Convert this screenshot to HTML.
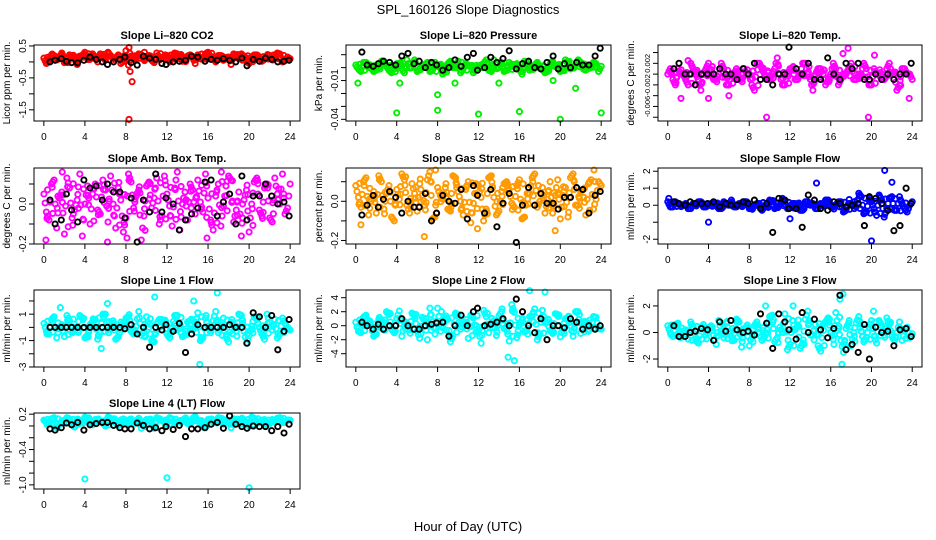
<!DOCTYPE html>
<html><head><meta charset="utf-8"><style>
html,body{margin:0;padding:0;background:#fff;}
svg{display:block;font-family:"Liberation Sans",sans-serif;}
</style></head><body>
<svg id="chart" width="936" height="540" viewBox="0 0 936 540" xmlns="http://www.w3.org/2000/svg">
<text x="468" y="14" text-anchor="middle" font-size="13">SPL_160126  Slope Diagnostics</text>
<text x="468" y="531" text-anchor="middle" font-size="13">Hour of Day (UTC)</text>
</svg>
<script>
// shared categories
const hoursA = Array.from({length:49},(_, i)=>i*0.5);
const hoursB = Array.from({length:48},(_, i)=>i*0.5+0.25);
const blackHours = [0.6,1.1,1.7,2.2,2.7,3.3,3.9,4.5,5.1,5.7,6.2,6.8,7.4,7.9,8.5,9.1,9.7,10.3,10.9,11.5,11.9,12.6,13.2,13.8,14.4,15.0,15.7,16.3,16.9,17.5,18.1,18.7,19.3,19.8,20.4,21.0,21.6,22.2,22.8,23.4,23.9];
const xTicks = [0,4,8,12,16,20,24];

// CO2
const co2A = [0.12,0.05,0.2,0.15,-0.02,0.22,0.1,0.18,0.3,0.08,0.15,0.25,0.05,0.2,0.12,-0.05,0.35,0.18,0.1,0.22,0.15,0.05,0.28,0.12,0.2,0.1,0.25,0.02,0.18,0.15,0.22,0.08,0.3,0.12,0.2,0.05,0.15,0.25,0.1,0.18,-0.05,0.22,0.15,0.08,0.2,0.12,0.25,0.05,0.1];
const co2B = [-0.05,0.22,0.1,0.28,0.02,0.15,-0.08,0.2,0.12,0.25,0.0,0.18,0.3,0.1,0.22,0.05,-0.1,0.15,0.25,0.08,0.2,-0.02,0.12,0.18,0.0,0.28,0.15,0.05,0.22,-0.05,0.1,0.25,0.15,0.0,0.2,0.12,-0.08,0.18,0.25,0.05,0.15,0.22,0.02,0.2,0.1,0.28,0.0,0.15];
const co2Black = [0.0,0.05,0.1,0.02,-0.02,-0.03,0.05,0.15,0.08,0.0,-0.08,0.0,0.08,0.15,-0.02,-0.1,0.18,0.12,0.08,-0.05,-0.08,0.0,0.02,0.05,0.18,0.15,0.02,0.08,0.05,0.1,0.05,0.0,0.12,-0.12,0.08,0.02,0.12,0.08,0.0,0.02,0.05];
const co2OutX = [8.3,8.4,8.6,8.3,9.8];
const co2OutY = [0.45,-0.3,-0.62,-1.8,0.3];
const co2Ticks = [0.5,0,-0.5,-1,-1.5];
const co2Labels = ["0.5","","-0.5","","-1.5"];

// Pressure
const presA = [0.002,-0.003,0.004,0,-0.002,0.005,0.001,-0.004,0.003,-0.001,0.006,0,-0.003,0.002,0.004,-0.002,0.001,-0.005,0.003,0,0.005,-0.001,0.002,-0.004,0.001,0.003,-0.002,0.006,0,-0.003,0.004,0.001,-0.001,0.005,-0.002,0.002,0,-0.004,0.003,0.001,-0.003,0.006,-0.001,0.002,0.004,-0.002,0,0.003,0.001];
const presB = [-0.001,0.004,0,-0.003,0.002,0.005,-0.002,0.001,0.003,-0.004,0,0.006,-0.001,0.002,-0.003,0.004,0.001,-0.002,0.005,0,-0.004,0.003,0.001,-0.001,0.002,0.006,-0.003,0,0.004,-0.002,0.001,0.003,-0.005,0.002,0,0.004,-0.001,-0.003,0.005,0.001,-0.002,0.003,0,0.006,-0.001,0.002,0.004,-0.003];
const presBlack = [0.012,0.002,0.001,0.003,0.005,0.004,0.002,0.009,0.011,0.003,0.005,0,0.004,0.002,-0.002,0,0.006,0.001,0.008,0.011,-0.002,0,0.008,0.004,0.007,0.013,-0.001,0.003,0.005,0,-0.001,0.004,0.009,-0.001,0.003,0,0.004,0.002,0.002,0.009,0.015];
const presOutX = [4,8,12,16,20,24,8,21.5,0.2,4.3,9.7,14,19.3];
const presOutY = [-0.035,-0.033,-0.036,-0.034,-0.04,-0.035,-0.021,-0.016,-0.012,-0.012,-0.012,-0.012,-0.01];
const presTicks = [0.01,0,-0.01,-0.02,-0.03,-0.04];
const presLabels = ["","","-0.01","","","-0.04"];

// Li-820 Temp
const tempA = [0,-0.001,0.001,0,-0.002,0.001,-0.001,0,0.002,-0.001,0,0.001,-0.002,0,-0.001,0.001,0,-0.003,0.002,0,-0.001,0.001,0,-0.002,0.001,-0.001,0,0.002,-0.001,0,0.001,-0.002,0,0.001,-0.001,0,0.002,-0.001,0,0.001,-0.002,0,-0.001,0.001,0,-0.003,0.001,0,-0.001];
const tempB = [0.001,-0.002,0,-0.001,0.002,0,-0.003,0.001,0,-0.001,0.002,-0.002,0,0.001,-0.001,0,-0.002,0.002,0.001,-0.001,0,0.003,-0.002,0,0.001,-0.001,0.002,0,-0.003,0.001,0,-0.001,0.002,-0.002,0,0.001,-0.001,0,0.002,-0.002,0.001,0,-0.001,0.002,0,-0.002,0.001,0];
const tempBlack = [0.001,0.002,0,0,-0.002,0,0,0,0.001,0,0,-0.001,0.001,0,0.002,-0.001,-0.001,-0.002,0,0,0.005,0.001,0,0.002,-0.001,-0.001,0.003,0,-0.001,0.002,0.001,0.002,-0.001,-0.001,0,-0.001,0,-0.001,0,0,0.002];
const tempOutX = [1.3,4.0,9.7,19.7,23.7,17.7,2.0,20.3,6.0,17.2];
const tempOutY = [-0.0045,-0.0045,-0.008,-0.008,-0.0045,0.0048,0.0025,0.0035,-0.004,0.0038];
const tempTicks = [0.004,0.002,0,-0.002,-0.004,-0.006,-0.008];
const tempLabels = ["","0.002","","-0.002","","-0.006",""];

// Amb box temp
const ambA = [0.05,-0.08,0.12,0.03,-0.15,0.08,-0.03,0.15,0,-0.1,0.1,-0.05,0.07,0.14,-0.12,0.02,-0.07,0.11,0.04,-0.18,0.09,-0.02,0.13,-0.06,0.05,-0.11,0.16,0,-0.08,0.07,0.12,-0.04,0.03,-0.13,0.1,-0.01,0.14,-0.09,0.06,0.02,-0.14,0.11,-0.03,0.08,-0.07,0.13,0,-0.05,0.1];
const ambB = [-0.04,0.1,-0.12,0.06,0.13,-0.07,0.02,-0.16,0.09,0.05,-0.03,0.12,-0.09,0,0.08,-0.14,0.15,-0.02,0.07,-0.06,0.11,0.03,-0.1,0.14,-0.01,0.08,-0.13,0.06,0.1,-0.05,0.01,0.15,-0.08,0.04,-0.11,0.09,0.12,-0.03,-0.16,0.07,0,0.13,-0.06,0.1,-0.09,0.05,0.15,-0.02];
const ambBlack = [0.02,-0.1,-0.08,0.05,-0.03,-0.09,0.12,0.08,0.09,0.02,0.1,0.06,0.06,-0.07,0.03,-0.19,0.02,-0.04,0.15,-0.04,0.03,0,-0.13,-0.08,-0.05,-0.02,0.11,0.12,-0.06,0.01,0.05,-0.1,0.14,-0.08,0.04,0.04,0.1,0.04,0,0.01,-0.06];
const ambOutX = [6.2,8.1,15.9,0.2,1.8,17.3];
const ambOutY = [-0.19,-0.17,-0.17,-0.18,0.16,0.16];
const ambTicks = [0.1,0,-0.1,-0.2];
const ambLabels = ["","0.0","","-0.2"];

// Gas stream RH
const rhA = [0.08,-0.03,0.12,0,-0.06,0.1,0.04,-0.08,0.06,0.14,-0.02,0.09,-0.05,0.03,0.11,-0.09,0.07,0.01,-0.04,0.13,0.05,-0.07,0.1,-0.01,0.08,-0.1,0.12,0.02,-0.05,0.09,0.06,-0.03,0.11,-0.08,0.04,0.14,0,-0.06,0.1,0.03,-0.09,0.07,0.12,-0.02,0.05,-0.07,0.11,0.01,0.08];
const rhB = [0.02,0.1,-0.07,0.05,0.13,-0.04,0.08,-0.1,0.01,0.11,-0.06,0.04,0.09,-0.02,0.15,-0.08,0.03,0.07,-0.05,0.12,0,0.06,-0.11,0.09,0.02,-0.04,0.13,-0.07,0.05,0.1,-0.01,0.08,-0.09,0.04,0.12,-0.03,0.07,0.01,-0.06,0.11,0.03,-0.08,0.14,-0.02,0.06,0.09,-0.04,0.1];
const rhBlack = [-0.07,-0.02,0.03,-0.03,0.01,0.05,0.02,-0.06,0,-0.03,-0.03,0.04,-0.1,-0.06,0.03,0,-0.01,0.06,-0.09,0.08,0.03,-0.06,0.06,-0.13,-0.01,0.04,-0.21,-0.02,0.07,-0.02,0.04,-0.01,-0.01,-0.04,0.02,0.02,0.07,0.06,-0.06,0.03,0.05];
const rhOutX = [0.5,6.7,11.9,19.5,7.8,23.3];
const rhOutY = [-0.12,-0.18,-0.14,-0.15,0.16,0.16];
const rhTicks = [0.1,0,-0.1,-0.2];
const rhLabels = ["","0.0","","-0.2"];

// Sample flow
const sfA = [0.2,-0.1,0.1,0,-0.2,0.1,0.2,-0.1,0,0.1,-0.2,0.2,0,-0.1,0.1,0.2,-0.2,0,0.1,-0.1,0.3,-0.2,0,0.2,-0.1,0.1,-0.3,0.2,0,-0.2,0.1,0.3,-0.1,0,0.2,-0.3,0.1,-0.1,0.5,-0.4,0.2,-0.6,0.3,-0.2,0.5,-0.3,0.1,-0.4,0.2];
const sfB = [-0.1,0.2,0,0.1,-0.2,0,0.2,-0.1,0.1,0,-0.2,0.1,0.3,-0.1,0,0.2,-0.2,0.1,-0.3,0,0.2,-0.1,0.4,-0.2,0.1,0,-0.3,0.2,0.1,-0.2,0,0.3,-0.1,0.2,-0.4,0.1,0,0.7,-0.5,0.3,-0.2,0.6,-0.7,0.4,-0.3,0.5,-0.2,0];
const sfBlack = [0.2,0.1,0,0.2,0.1,0.1,0.1,0.2,-0.1,0.1,0,0,0.2,0.1,0.3,-0.2,0.1,-1.6,0.4,0.3,-0.2,-0.2,-1.3,0.6,0.3,-0.2,-0.3,0.2,0.1,-0.1,0,0.1,-1.2,0.5,0.4,0.1,-0.3,-1.5,-1.2,1.0,0.1];
const sfOutX = [4,14.6,21.3,20,22,12,0.1];
const sfOutY = [-1.0,1.3,2.05,-2.1,1.35,-0.8,0.4];
const sfTicks = [2,1,0,-1,-2];
const sfLabels = ["2","1","0","","-2"];

// Line 1 flow
const l1A = [0.3,-0.5,0.8,0,-0.7,0.5,-0.2,0.9,-0.8,0.2,0.6,-0.4,1.0,-0.1,-0.9,0.4,0.7,-0.3,0.1,-0.6,0.8,-1.0,0.3,0.6,-0.5,0,0.9,-0.7,0.4,-0.2,1.1,-0.8,0.1,0.5,-0.4,0.7,-1.1,0.2,1.0,-0.3,-0.6,0.8,0,-0.9,0.4,0.6,-0.5,0.3,-0.2];
const l1B = [-0.3,0.6,-0.8,0.2,0.9,-0.4,0,0.7,-0.6,0.4,-0.9,1.0,-0.2,0.5,-0.7,0.1,0.8,-0.5,1.2,-0.3,0,-1.1,0.6,0.3,-0.8,0.9,-0.1,-0.6,0.5,0.2,-1.0,0.7,-0.4,1.2,0,-0.7,0.4,-0.3,0.9,-1.2,0.1,0.6,-0.5,1.0,-0.2,-0.8,0.7,0];
const l1Black = [0,0,0,0,0,0,0,0,0,0,0,0,0,-0.1,0.2,-0.5,0,-1.5,0,-0.2,0.2,-0.3,0.3,-1.9,-0.5,0.2,0,0,0,0,0.2,0,0,-1.2,1.1,0.8,0,0.9,-1.7,-0.3,0.6];
const l1OutX = [10.8,14.6,16.9,15.2,5.6,6.2,1.6];
const l1OutY = [2.3,2.0,2.6,-2.8,-1.6,1.8,1.5];
const l1Ticks = [2,1,0,-1,-2,-3];
const l1Labels = ["","1","","-1","","-3"];

// Line 2 flow
const l2A = [0.5,-1.0,1.5,0,-1.2,0.8,2.0,-0.5,1.0,-1.5,0.3,1.8,-0.8,1.2,-2.0,0.6,2.5,-0.3,0.9,-1.4,1.6,0.2,-1.8,1.1,-0.6,2.2,-1.0,0.7,1.4,-0.4,-2.2,1.9,0.1,-0.9,1.3,2.4,-1.2,0.4,-0.7,1.7,-1.6,1.0,0,2.0,-1.1,0.6,-0.3,1.2,-0.5];
const l2B = [-0.8,1.2,0.3,-1.5,0.9,-0.4,1.6,-1.0,2.1,0,-0.6,1.4,-1.8,0.7,2.5,-1.2,0.2,1.1,-2.3,1.8,-0.5,0.9,1.5,-0.9,-2.5,1.3,0.4,-1.4,2.0,-0.2,3.0,-1.7,0.8,-0.7,1.4,-2.0,2.2,0.5,-1.1,1.6,-0.3,0.9,-1.5,2.0,0.1,-0.8,1.3,-0.4];
const l2Black = [0.5,0,-0.5,0.2,-0.5,0,0,1.0,0,-0.5,-0.5,0,0.2,0.4,0.5,-1.5,0,1.5,0,2.0,2.5,0,0.2,0.5,1.0,0,3.8,2.0,0,-1.0,1.0,-2.0,0,0,-0.3,1.0,0.5,-0.5,0,-0.5,0];
const l2OutX = [14.9,15.5,18.5,17.0];
const l2OutY = [-4.5,-5.0,4.8,5.0];
const l2Ticks = [4,2,0,-2,-4];
const l2Labels = ["4","2","0","-2","-4"];

// Line 3 flow
const l3A = [0.5,-0.3,0.7,0,-0.5,0.4,-0.8,0.6,0.2,-0.2,0.9,-0.4,0.1,-0.6,0.8,0.3,-1.0,0.5,0,-0.3,1.2,-0.7,0.4,1.4,-0.9,0.2,-1.2,1.0,-0.2,0.6,-1.4,0.8,0,1.5,-0.6,0.3,-1.0,0.7,0.1,-0.4,0.9,-0.8,0.5,1.1,-0.3,0,-0.6,0.4,-0.1];
const l3B = [0,0.6,-0.4,0.2,0.8,-0.6,0.3,-0.2,0.5,-0.9,0.1,0.7,-0.3,1.0,-1.1,0.4,-0.1,0.8,-0.6,0.2,1.3,-0.4,0,-1.3,0.9,0.5,-0.8,1.6,-0.2,-1.0,0.6,1.1,-0.5,0.3,-1.5,0.7,0,1.2,-0.7,0.4,-0.3,0.9,-0.2,0.6,-0.6,0.8,0.1,-0.4];
const l3Black = [0.5,-0.3,-0.3,0,0.1,0.3,0.2,-0.6,0.8,0.1,0.9,0.2,0,0.1,-0.2,1.4,0.7,-1.2,1.4,0.8,0.2,-0.5,1.5,0,1.0,0.2,-0.4,0.3,2.8,-1.3,-0.9,-1.5,0.6,-2.0,0.4,0,0.1,-1.0,0.2,0.3,-0.3];
const l3OutX = [16.9,17.2,17.1,9.6,12.3,20.2];
const l3OutY = [2.5,2.9,-2.4,2.0,2.0,1.6];
const l3Ticks = [2,0,-2];
const l3Labels = ["2","0","-2"];

// Line 4 (LT) flow
const l4A = [0.10,0.05,0.14,0.02,0.08,0.12,-0.02,0.09,0.15,0.04,0.11,0.07,0,0.13,0.06,0.10,0.03,0.12,0.08,-0.04,0.11,0.05,0.14,0.09,0.02,0.12,0.07,0.10,0.04,0.13,0.08,-0.02,0.11,0.06,0.14,0.03,0.09,0.12,0.05,0.10,0,0.13,0.07,0.11,0.04,0.08,0.14,0.06,0.10];
const l4B = [0.06,0.12,-0.03,0.09,0.14,0.04,0.11,0.07,0.13,0.02,0.10,0.05,0.15,0.08,0.01,0.12,0.09,0.04,0.13,0.06,0.10,-0.04,0.11,0.07,0.14,0.03,0.09,0.12,0.05,0.16,0.08,0.02,0.11,0.06,0.13,0.10,-0.03,0.08,0.12,0.04,0.15,0.07,0.09,0.01,0.11,0.13,0.06,0.10];
const l4Black = [-0.05,-0.07,-0.03,0.05,0.02,0.06,-0.07,0.02,0.04,0.06,0.06,0.01,-0.03,-0.05,-0.05,0.05,0.01,-0.05,-0.03,-0.08,-0.01,-0.06,0.01,-0.18,-0.05,-0.05,-0.03,0.03,0.06,-0.04,0.17,0.03,-0.01,-0.04,0,-0.01,-0.01,-0.08,-0.01,-0.12,0.03];
const l4OutX = [4,12,20];
const l4OutY = [-0.9,-0.88,-1.05];
const l4Ticks = [0.2,0,-0.2,-0.4,-0.6,-0.8,-1.0];
const l4Labels = ["0.2","","","-0.4","","","-1.0"];

const NS = "http://www.w3.org/2000/svg";
const svg = document.getElementById('chart');
const cols = [[34,300],[346,611],[658,922]];
const rows = [[45,121],[168,244],[290,367],[413,489]];

function mk(tag, attrs, parent){
  const e = document.createElementNS(NS, tag);
  for (const k in attrs) e.setAttribute(k, attrs[k]);
  (parent||svg).appendChild(e);
  return e;
}

function panel(name, title, ylab, r, c, ymin, ymax, color, A, B, blk, ox, oy, ticks, labels, tickFont){
  const [L,R] = cols[c], [T,Bt] = rows[r];
  const g = mk('g', {});
  
  
  const xs = h => L + (h + 0.96) / 25.92 * (R - L);
  const ys = v => Bt - (v - ymin) / (ymax - ymin) * (Bt - T);
  const t = mk('text', {x:(L+R)/2, y:T-6, 'text-anchor':'middle', 'font-size':11, 'font-weight':'bold'}, g);
  t.textContent = title;
  
  
  const yl = mk('text', {x:0, y:0, 'text-anchor':'middle', 'font-size':10, transform:`translate(${L-24},${(T+Bt)/2}) rotate(-90)`}, g);
  yl.textContent = ylab;
  
  
  const pts = mk('g', {fill:'none', 'stroke-width':1.9}, g);
  
  
  function dot(h, v, col){
    const p = mk('circle', {cx:xs(h).toFixed(1), cy:ys(v).toFixed(1), r:2.6, stroke:col}, pts);
    
    
  }
  A.forEach((v,i)=>dot(hoursA[i], v, color));
  B.forEach((v,i)=>dot(hoursB[i], v, color));
  A.forEach((v,i)=>{ if (i < B.length) dot(hoursA[i]+0.12, (v + B[i]) / 2, color); });
  B.forEach((v,i)=>{ if (i+1 < A.length) dot(hoursB[i]+0.12, (v + A[i+1]) / 2, color); });
  A.forEach((v,i)=>{ if (i+2 < A.length) dot(hoursA[i]+0.37, (v*0.7 + A[i+2]*0.3), color); });
  B.forEach((v,i)=>{ if (i+2 < B.length) dot(hoursB[i]+0.06, (v*0.6 + B[i+2]*0.4), color); });
  ox.forEach((h,i)=>dot(h, oy[i], color));
  blk.forEach((v,i)=>dot(blackHours[i], v, '#000'));
  const box = mk('rect', {x:L, y:T, width:R-L, height:Bt-T, fill:'none', stroke:'#000', 'stroke-width':1}, g);
  
  
  const xa = mk('g', {stroke:'#000', 'stroke-width':1}, g);
  
  
  mk('line', {x1:xs(0), x2:xs(24), y1:Bt, y2:Bt}, xa);
  xTicks.forEach(h=>{
    mk('line', {x1:xs(h), x2:xs(h), y1:Bt, y2:Bt+5}, xa);
    const tl = mk('text', {x:xs(h), y:Bt+19, 'text-anchor':'middle', 'font-size':10, stroke:'none', fill:'#000'}, xa);
    tl.textContent = h;
    
    
  });
  const ya = mk('g', {stroke:'#000', 'stroke-width':1}, g);
  
  
  mk('line', {x1:L, x2:L, y1:ys(ticks[0]), y2:ys(ticks[ticks.length-1])}, ya);
  ticks.forEach((v,i)=>{
    const y = ys(v);
    mk('line', {x1:L-5, x2:L, y1:y, y2:y}, ya);
    if (labels[i]) {
      const tl = mk('text', {x:0, y:0, 'text-anchor':'middle', 'font-size':tickFont||10, stroke:'none', fill:'#000', transform:`translate(${L-8},${y}) rotate(-90)`}, ya);
      tl.textContent = labels[i];
      
      
    }
  });
}

panel('co2', 'Slope Li\u2013820 CO2', 'Licor ppm per min.', 0, 0, -1.85, 0.53, '#ff0000', co2A, co2B, co2Black, co2OutX, co2OutY, co2Ticks, co2Labels);
panel('pressure', 'Slope Li\u2013820 Pressure', 'kPa per min.', 0, 1, -0.0413, 0.0175, '#00ee00', presA, presB, presBlack, presOutX, presOutY, presTicks, presLabels);
panel('li820-temp', 'Slope Li\u2013820 Temp.', 'degrees C per min.', 0, 2, -0.0087, 0.0054, '#ff00ff', tempA, tempB, tempBlack, tempOutX, tempOutY, tempTicks, tempLabels, 7.5);
panel('amb-temp', 'Slope Amb. Box Temp.', 'degrees C per min.', 1, 0, -0.2, 0.18, '#ff00ff', ambA, ambB, ambBlack, ambOutX, ambOutY, ambTicks, ambLabels);
panel('gas-rh', 'Slope Gas Stream RH', 'percent per min.', 1, 1, -0.218, 0.17, '#ff9a00', rhA, rhB, rhBlack, rhOutX, rhOutY, rhTicks, rhLabels);
panel('sample-flow', 'Slope Sample Flow', 'ml/min per min.', 1, 2, -2.28, 2.19, '#0000ff', sfA, sfB, sfBlack, sfOutX, sfOutY, sfTicks, sfLabels);
panel('line1-flow', 'Slope Line 1 Flow', 'ml/min per min.', 2, 0, -3.0, 2.83, '#00ffff', l1A, l1B, l1Black, l1OutX, l1OutY, l1Ticks, l1Labels);
panel('line2-flow', 'Slope Line 2 Flow', 'ml/min per min.', 2, 1, -5.9, 5.1, '#00ffff', l2A, l2B, l2Black, l2OutX, l2OutY, l2Ticks, l2Labels);
panel('line3-flow', 'Slope Line 3 Flow', 'ml/min per min.', 2, 2, -2.6, 3.2, '#00ffff', l3A, l3B, l3Black, l3OutX, l3OutY, l3Ticks, l3Labels);
panel('line4-flow', 'Slope Line 4 (LT) Flow', 'ml/min per min.', 3, 0, -1.07, 0.22, '#00ffff', l4A, l4B, l4Black, l4OutX, l4OutY, l4Ticks, l4Labels);
</script>
</body></html>
